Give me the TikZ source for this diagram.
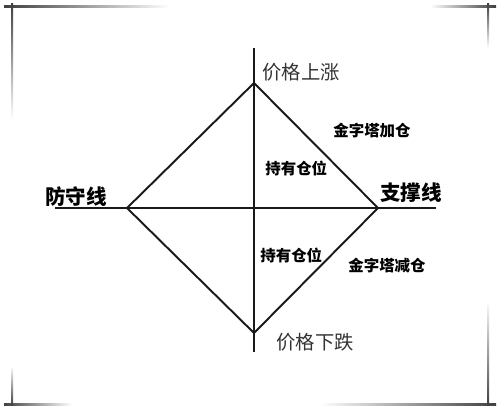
\documentclass[tikz,border=0pt]{standalone}
\usepackage{fontspec}
\newfontfamily\cjk{Noto Sans CJK SC}
\usetikzlibrary{positioning}

\tikzset{
  axis/.style={black!90, line width=1.6pt},
  side/.style={black!90, line width=1.1pt},
  fadebar/.style={draw=none},
  price/.style={inner sep=0pt, anchor=west, text=black!80, font=\cjk\fontsize{11}{13}\selectfont},
  note/.style={inner sep=0pt, anchor=west, font=\cjk\bfseries\fontsize{8.8}{10}\selectfont},
  guard/.style={inner sep=0pt, anchor=west, font=\cjk\bfseries\fontsize{11.7}{14}\selectfont}
}

\begin{document}
\begin{tikzpicture}[x=0.02cm, y=-0.02cm]
\useasboundingbox (0,0) rectangle (500,412);
% corner marks of the frame
\shade[fadebar, left color=black!75, right color=white] (4,6) rectangle (170,8);
\shade[fadebar, top color=black!75, bottom color=white] (11,4) rectangle (13,120);
\shade[fadebar, left color=white, right color=black!75] (430,6) rectangle (496,8);
\shade[fadebar, top color=black!75, bottom color=white] (487,4) rectangle (489,48);
\shade[fadebar, left color=black!75, right color=white] (4,403) rectangle (72,405);
\shade[fadebar, top color=white, bottom color=black!75] (11,366) rectangle (13,405);
\shade[fadebar, left color=white, right color=black!75] (320,403) rectangle (496,405);
\shade[fadebar, top color=white, bottom color=black!75] (487,300) rectangle (489,405);

% axes
\coordinate (vtop) at (254,48);
\coordinate (vbot) at (254,352);
\coordinate (hleft) at (55,208);
\coordinate (hright) at (436,208);
\draw[axis] (vtop) -- (vbot);
\draw[side] (hleft) -- (hright);

% diamond
\coordinate (top) at (254,83);
\coordinate (right) at (378,208);
\coordinate (bottom) at (254,333);
\coordinate (left) at (127,208);
\draw[side, line join=miter] (top) -- (right) -- (bottom) -- (left) -- cycle;

% labels
\node[price] (rise) at (262,72) {价格上涨};
\node[price] (fall) at (276,342) {价格下跌};
\node[note] (addpos) at (333,131) {金字塔加仓};
\node[note] (hold1) at (265,168) {持有仓位};
\node[note] (hold2) at (260,255) {持有仓位};
\node[note] (cutpos) at (348,266) {金字塔减仓};
\node[guard] (defend) at (45,197) {防守线};
\node[guard] (support) at (380,193) {支撑线};
\end{tikzpicture}
\end{document}
